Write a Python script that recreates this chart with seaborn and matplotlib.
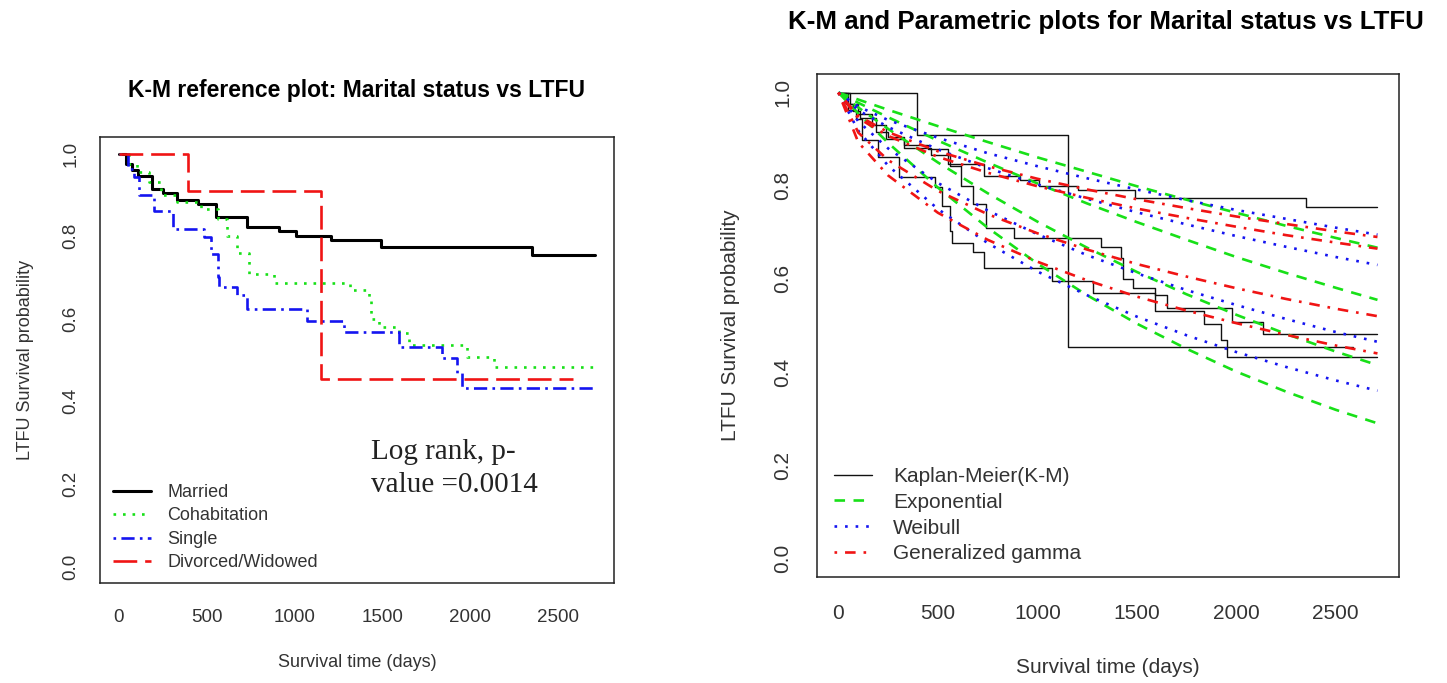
import matplotlib
matplotlib.use("Agg")
import matplotlib.pyplot as plt
import seaborn as sns
import numpy as np
import pandas as pd

# Kaplan-Meier step data (days, survival probability)
married_t = [0, 40, 75, 110, 190, 250, 330, 450, 553, 731, 911, 1006, 1205, 1489, 2350, 2710]
married_s = [1.0, 0.975, 0.96, 0.945, 0.915, 0.905, 0.888, 0.878, 0.846, 0.822, 0.812, 0.80, 0.79, 0.774, 0.755, 0.755]

cohab_t = [0, 60, 100, 170, 240, 330, 466, 561, 617, 674, 741, 883, 1318, 1422, 1432, 1479, 1593, 1650, 1981, 2133, 2710]
cohab_s = [1.0, 0.975, 0.955, 0.93, 0.90, 0.882, 0.866, 0.842, 0.80, 0.76, 0.709, 0.687, 0.669, 0.645, 0.60, 0.581, 0.565, 0.537, 0.508, 0.482, 0.482]

single_t = [0, 49, 87, 116, 201, 305, 485, 523, 561, 570, 674, 731, 1072, 1280, 1593, 1839, 1924, 1953, 2710]
single_s = [1.0, 0.963, 0.943, 0.899, 0.862, 0.818, 0.798, 0.757, 0.702, 0.678, 0.658, 0.624, 0.595, 0.569, 0.532, 0.504, 0.468, 0.432, 0.432]

divorced_t = [0, 394, 1152, 2587]
divorced_s = [1.0, 0.909, 0.4545, 0.4545]

# parametric fits, read at these times
fit_t = [0, 100, 250, 500, 750, 1000, 1250, 1500, 1750, 2000, 2250, 2500, 2710]

exp_married = [1, 0.985, 0.963, 0.928, 0.894, 0.861, 0.830, 0.799, 0.770, 0.742, 0.714, 0.688, 0.667]
exp_divorced = [1, 0.978, 0.947, 0.897, 0.850, 0.805, 0.762, 0.722, 0.684, 0.647, 0.613, 0.581, 0.555]
exp_cohab = [1, 0.968, 0.922, 0.850, 0.784, 0.723, 0.667, 0.615, 0.567, 0.523, 0.482, 0.444, 0.415]
exp_single = [1, 0.955, 0.892, 0.796, 0.710, 0.633, 0.565, 0.504, 0.450, 0.401, 0.358, 0.319, 0.290]

wei_married = [1, 0.970, 0.941, 0.903, 0.870, 0.842, 0.816, 0.792, 0.769, 0.748, 0.729, 0.710, 0.695]
wei_divorced = [1, 0.962, 0.926, 0.878, 0.838, 0.803, 0.772, 0.743, 0.717, 0.692, 0.669, 0.647, 0.630]
wei_cohab = [1, 0.938, 0.880, 0.806, 0.747, 0.696, 0.651, 0.612, 0.576, 0.544, 0.514, 0.486, 0.465]
wei_single = [1, 0.918, 0.843, 0.750, 0.677, 0.616, 0.565, 0.519, 0.479, 0.443, 0.411, 0.382, 0.360]

gg_married = [1, 0.950, 0.915, 0.874, 0.842, 0.815, 0.792, 0.771, 0.752, 0.734, 0.718, 0.702, 0.690]
gg_divorced = [1, 0.945, 0.907, 0.862, 0.828, 0.799, 0.774, 0.751, 0.731, 0.712, 0.694, 0.678, 0.665]
gg_cohab = [1, 0.914, 0.855, 0.789, 0.739, 0.698, 0.663, 0.632, 0.605, 0.580, 0.557, 0.536, 0.520]
gg_single = [1, 0.893, 0.822, 0.742, 0.684, 0.637, 0.597, 0.562, 0.532, 0.505, 0.480, 0.457, 0.440]

group_labels = ["Married", "Cohabitation", "Single", "Divorced/Widowed"]
model_labels = ["Kaplan-Meier(K-M)", "Exponential", "Weibull", "Generalized gamma"]
x_ticks = [0, 500, 1000, 1500, 2000, 2500]
y_ticks = [0.0, 0.2, 0.4, 0.6, 0.8, 1.0]

GREEN = "#18e018"
BLUE = "#1414f0"
RED = "#f01414"
TXT = "#333333"

sns.set_style("white")
plt.rcParams['font.family'] = ['Liberation Sans', 'DejaVu Sans']

fig = plt.figure(figsize=(14.47, 6.83), dpi=100)
ax1 = fig.add_axes([0.0691, 0.1464, 0.3552, 0.6530])
ax2 = fig.add_axes([0.5646, 0.1552, 0.4022, 0.7365])


def style_axes(ax, fs, xpad, ypad, tlen):
    ax.set_xlim(-108, 2818)
    ax.set_ylim(-0.04, 1.04)
    ax.set_xticks(x_ticks)
    ax.set_yticks(y_ticks)
    ax.set_yticklabels([f"{v:.1f}" for v in y_ticks])
    for sp in ax.spines.values():
        sp.set_visible(True)
        sp.set_color("#222222")
        sp.set_linewidth(1.1)
    ax.tick_params(axis="both", direction="out", length=tlen, width=1.0,
                   color="#222222", labelcolor=TXT, labelsize=fs)
    ax.tick_params(axis="x", pad=xpad)
    ax.tick_params(axis="y", pad=ypad)
    for lbl in ax.get_yticklabels():
        lbl.set_rotation(90)
        lbl.set_va("center")
    ax.grid(False)


# left: K-M reference plot
lw1 = 1.9
sns.lineplot(x=married_t, y=married_s, ax=ax1, color="black", lw=2.2,
             drawstyle="steps-post", label=group_labels[0], legend=False)
sns.lineplot(x=cohab_t, y=cohab_s, ax=ax1, color=GREEN, lw=lw1,
             linestyle=(0, (1, 2.6)), drawstyle="steps-post", label=group_labels[1], legend=False)
sns.lineplot(x=single_t, y=single_s, ax=ax1, color=BLUE, lw=lw1,
             linestyle=(0, (1, 2, 5, 2)), drawstyle="steps-post", label=group_labels[2], legend=False)
sns.lineplot(x=divorced_t, y=divorced_s, ax=ax1, color=RED, lw=lw1,
             linestyle=(0, (9, 3)), drawstyle="steps-post", label=group_labels[3], legend=False)

style_axes(ax1, 13.5, 11, 7, 8)
ax1.set_xlabel("Survival time (days)", fontsize=13, color=TXT, va="center")
ax1.xaxis.set_label_coords(0.5, -0.179)
ax1.set_ylabel("LTFU Survival probability", fontsize=13, color=TXT, va="center")
ax1.yaxis.set_label_coords(-0.145, 0.5)
fig.text(0.2467, 1 - 91 / 683, "K-M reference plot: Marital status vs LTFU",
         ha="center", va="center", fontsize=16.5, fontweight="bold", color="black")
ax1.legend(loc="upper left", bbox_to_anchor=(0.026, 0.222), frameon=False,
           fontsize=13, handlelength=2.1, handletextpad=0.9, labelspacing=0.36,
           borderaxespad=0, borderpad=0, labelcolor=TXT)
ax1.text(1432, 0.237, "Log rank, p-\nvalue =0.0014", ha="left", va="center",
         fontsize=21, family=["Liberation Serif", "DejaVu Serif"], color="#222222",
         linespacing=1.36)

# right: K-M and parametric fits
km_sets = [(married_t, married_s), (cohab_t, cohab_s), (single_t, single_s), (divorced_t, divorced_s)]
for i, (t, s) in enumerate(km_sets):
    sns.lineplot(x=t, y=s, ax=ax2, color="#111111", lw=1.0, drawstyle="steps-post",
                 label=model_labels[0] if i == 0 else None, legend=False)

lw2 = 1.9
fits = [
    ([exp_married, exp_cohab, exp_single, exp_divorced], GREEN, (0, (4, 3.2)), model_labels[1]),
    ([wei_married, wei_cohab, wei_single, wei_divorced], BLUE, (0, (1, 3)), model_labels[2]),
    ([gg_married, gg_cohab, gg_single, gg_divorced], RED, (0, (1, 3, 4, 3)), model_labels[3]),
]
for curves, col, ls, lab in fits:
    for i, s in enumerate(curves):
        sns.lineplot(x=fit_t, y=s, ax=ax2, color=col, lw=lw2, linestyle=ls,
                     label=lab if i == 0 else None, legend=False)

style_axes(ax2, 15, 11, 9, 8.6)
ax2.set_xlabel("Survival time (days)", fontsize=15, color=TXT, va="center")
ax2.xaxis.set_label_coords(0.5, -0.179)
ax2.set_ylabel("LTFU Survival probability", fontsize=15, color=TXT, va="center")
ax2.yaxis.set_label_coords(-0.149, 0.5)
fig.text(1106 / 1447, 1 - 22 / 683, "K-M and Parametric plots for Marital status vs LTFU",
         ha="center", va="center", fontsize=18.6, fontweight="bold", color="black")
ax2.legend(loc="upper left", bbox_to_anchor=(0.03, 0.219), frameon=False,
           fontsize=15, handlelength=1.8, handletextpad=1.0, labelspacing=0.33,
           borderaxespad=0, borderpad=0, labelcolor=TXT)

fig.savefig("out.png", dpi=100)
